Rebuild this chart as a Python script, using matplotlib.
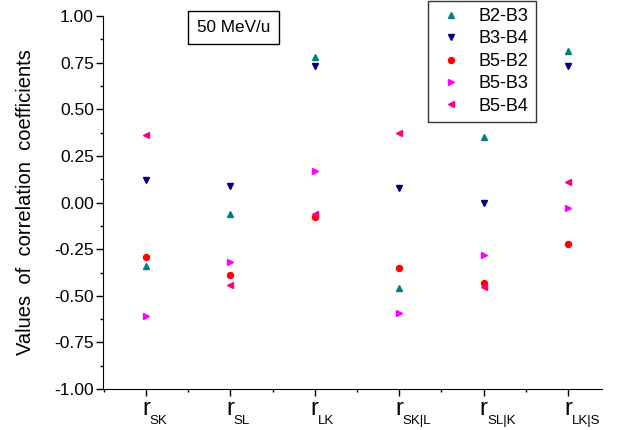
import matplotlib
matplotlib.use('Agg')
import matplotlib.pyplot as plt
import numpy as np
from matplotlib.ticker import MultipleLocator

plt.rcParams['font.family'] = ['Liberation Sans', 'DejaVu Sans']

categories = ['SK', 'SL', 'LK', 'SK|L', 'SL|K', 'LK|S']
b2_b3 = [-0.34, -0.06, 0.78, -0.46, 0.35, 0.81]
b3_b4 = [0.12, 0.09, 0.73, 0.08, 0.00, 0.73]
b5_b2 = [-0.29, -0.39, -0.08, -0.35, -0.43, -0.22]
b5_b3 = [-0.61, -0.32, 0.17, -0.59, -0.28, -0.03]
b5_b4 = [0.36, -0.44, -0.06, 0.37, -0.45, 0.11]

x = np.arange(1, len(categories) + 1)

fig = plt.figure(figsize=(6.27, 4.30), dpi=100)
ax = fig.add_axes([0.164, 0.095, 0.796, 0.868])

ms = 5
ax.plot(x, b2_b3, '^', color='#008080', ms=ms, label='B2-B3')
ax.plot(x, b3_b4, 'v', color='#000080', ms=ms, label='B3-B4')
ax.plot(x, b5_b2, 'o', color='#ff0000', ms=4.3, label='B5-B2')
ax.plot(x, b5_b3, '>', color='#ff00ff', ms=ms, label='B5-B3')
ax.plot(x, b5_b4, '<', color='#ff0080', ms=ms, label='B5-B4')

ax.set_xlim(0.49, 6.4)
ax.set_ylim(-1.0, 1.0)
ax.spines['top'].set_visible(False)
ax.spines['right'].set_visible(False)
ax.yaxis.set_major_locator(MultipleLocator(0.25))
ax.yaxis.set_minor_locator(MultipleLocator(0.125))
ax.set_xticks(x)
ax.xaxis.set_minor_locator(MultipleLocator(0.5))
ax.set_yticklabels(['%.2f' % v for v in ax.get_yticks()], fontsize=12.5)
ax.set_xticklabels(['r'] * len(categories), fontsize=17)
ax.tick_params(which='major', direction='out', length=5, width=1)
ax.tick_params(which='minor', direction='out', length=2.5, width=1)
ax.tick_params(axis='x', pad=1.5)
ax.tick_params(axis='y', pad=1.5)

for xi, sub in zip(x, categories):
    ax.annotate(sub, xy=(xi, 0), xycoords=('data', 'axes fraction'),
                xytext=(2.5, -24.8), textcoords='offset points',
                ha='left', va='baseline', fontsize=9.5)

ax.set_ylabel('Values  of  correlation  coefficients', fontsize=14.5, labelpad=14)

ax.text(0.262, 0.969, '50 MeV/u', transform=ax.transAxes, fontsize=12.3,
        ha='center', va='center',
        bbox=dict(boxstyle='square,pad=0.5', fc='white', ec='black', lw=1))

leg = ax.legend(loc='upper left', bbox_to_anchor=(428 / 627, 0.998),
                bbox_transform=fig.transFigure, fontsize=13, frameon=True,
                fancybox=False, edgecolor='black', handletextpad=0.7,
                labelspacing=0.3, borderpad=0.4, handlelength=1.7,
                borderaxespad=0)
leg.get_frame().set_linewidth(1)

fig.savefig('out.png', dpi=100)
